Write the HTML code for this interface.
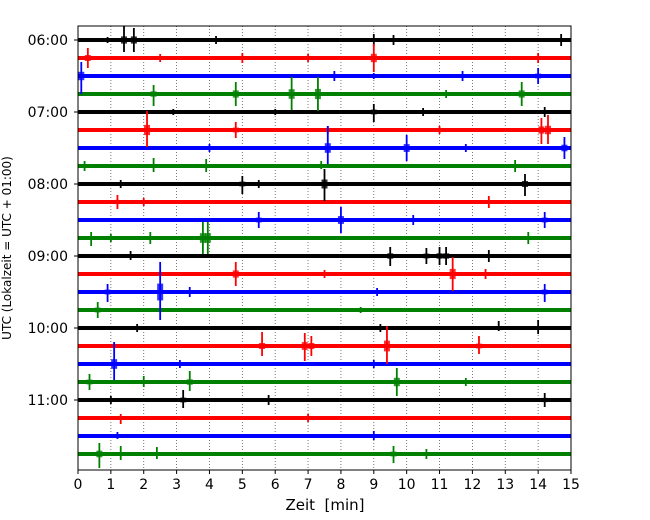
<!DOCTYPE html>
<html><head><meta charset="utf-8"><style>
body{margin:0;background:#fff;}
svg{display:block;font-family:"DejaVu Sans","Liberation Sans",sans-serif;}
</style></head><body>
<svg id="c" width="650" height="520"></svg>
<script>
const hourLabels=["06:00","07:00","08:00","09:00","10:00","11:00"];
const xTicks=[0,1,2,3,4,5,6,7,8,9,10,11,12,13,14,15];
const rowCount=24;
const colors=["#000000","#ff0000","#0000ff","#008000"];
// events: [row, minute, up amplitude, down amplitude]
const events=[
[0,1.4,14,12],[0,1.7,12,12],[0,9.0,6,6],[0,9.6,5,5],[0,14.7,6,6],[0,0.9,3,3],[0,4.2,4,4],
[1,0.3,10,10],[1,9.0,14,14],[1,5.0,5,5],[1,14.0,5,5],[1,2.5,4,4],[1,7.0,4,4],
[2,0.1,14,18],[2,14.0,8,8],[2,7.8,5,5],[2,9.0,3,3],[2,11.7,5,5],
[3,2.3,9,12],[3,4.8,12,12],[3,6.5,17,16],[3,7.3,17,17],[3,13.5,12,12],[3,11.2,4,4],
[4,9.0,8,10],[4,14.2,5,5],[4,6.0,3,3],[4,10.5,4,4],[4,2.9,3,3],
[5,2.1,19,17],[5,4.8,8,8],[5,7.6,4,4],[5,14.1,12,14],[5,14.3,15,14],[5,11.0,4,4],
[6,7.6,22,16],[6,10.0,13,13],[6,14.8,11,11],[6,4.0,4,4],[6,11.8,4,4],
[7,2.3,8,6],[7,3.9,7,6],[7,7.4,5,3],[7,13.3,6,6],[7,0.2,5,5],
[8,5.0,8,10],[8,7.5,15,17],[8,13.6,10,12],[8,1.3,4,4],[8,5.5,4,4],
[9,1.2,7,7],[9,12.5,6,6],[9,2.0,4,4],
[10,5.5,8,8],[10,8.0,13,13],[10,14.2,8,8],[10,10.2,5,5],
[11,0.4,6,8],[11,2.2,6,6],[11,3.8,16,16],[11,3.95,16,16],[11,13.7,6,6],[11,1.0,4,4],
[12,9.5,9,10],[12,10.6,8,8],[12,11.0,9,9],[12,11.2,9,9],[12,12.5,6,6],[12,1.6,5,4],
[13,4.8,12,12],[13,11.4,17,17],[13,7.5,4,4],[13,12.4,5,5],
[14,0.9,8,10],[14,2.5,30,28],[14,14.2,8,10],[14,3.4,5,5],[14,9.1,4,4],
[15,0.6,8,8],[15,8.6,3,3],
[16,14.0,8,6],[16,12.8,7,3],[16,1.8,4,4],[16,9.2,4,4],
[17,5.6,14,10],[17,6.9,13,15],[17,7.1,10,10],[17,9.4,20,18],[17,12.2,10,8],
[18,1.1,22,16],[18,3.1,4,4],[18,9.0,4,4],
[19,0.35,8,8],[19,3.4,11,9],[19,9.7,14,14],[19,2.0,6,5],[19,11.8,4,4],
[20,3.2,10,8],[20,5.8,5,5],[20,14.2,7,7],[20,1.0,4,4],
[21,1.3,4,6],[21,7.0,4,4],
[22,9.0,5,4],[22,1.2,4,3],
[23,0.65,11,14],[23,1.3,8,6],[23,2.4,7,5],[23,9.6,8,9],[23,10.6,5,5]
];
const svg=document.getElementById('c');
const NS="http://www.w3.org/2000/svg";
const L=78,R=571,T=26,B=470;
const xs=m=>L+(R-L)*m/15;
const ys=r=>40+r*18;
function mk(tag,attrs,parent){const e=document.createElementNS(NS,tag);for(const k in attrs)e.setAttribute(k,attrs[k]);(parent||svg).appendChild(e);return e;}
xTicks.forEach(t=>{
 const g=mk('line',{x1:xs(t),x2:xs(t),y1:T,y2:B,stroke:'#555','stroke-width':0.8,'stroke-dasharray':'1,2'});
 
 
 const tk=mk('line',{x1:xs(t),x2:xs(t),y1:B,y2:B+4,stroke:'#000'});
 
 
 const tx=mk('text',{x:xs(t),y:B+19,'text-anchor':'middle','font-size':14});
 tx.textContent=t;
 
 
});
for(let r=0;r<rowCount;r++){
 const tr=mk('rect',{x:L,y:ys(r)-2,width:R-L,height:4,fill:colors[r%4]});
 
 
}
events.forEach(e=>{
 const [r,m,u,d]=e;
 const l=mk('line',{x1:xs(m),x2:xs(m),y1:ys(r)-u,y2:ys(r)+d,stroke:colors[r%4],'stroke-width':1.8});
 
 
 const l2=mk('rect',{x:xs(m)-3,y:ys(r)-Math.min(u,d)*0.3,width:6,height:Math.min(u,d)*0.6,fill:colors[r%4],opacity:0.8});
 
 
});
hourLabels.forEach((h,i)=>{
 const y=ys(i*4);
 const tk=mk('line',{x1:L-4,x2:L,y1:y,y2:y,stroke:'#000'});
 
 
 const tx=mk('text',{x:L-10,y:y+5,'text-anchor':'end','font-size':14});
 tx.textContent=h;
 
 
});
const fr=mk('rect',{x:L,y:T,width:R-L,height:B-T,fill:'none',stroke:'#000','stroke-width':1});


const xl=mk('text',{x:325,y:510,'text-anchor':'middle','font-size':15});
xl.textContent='Zeit\u00a0\u00a0[min]';


const yl=mk('text',{x:0,y:0,'text-anchor':'middle','font-size':12,transform:'translate(11,248) rotate(-90)'});
yl.textContent='UTC (Lokalzeit = UTC + 01:00)';


</script>
</body></html>
